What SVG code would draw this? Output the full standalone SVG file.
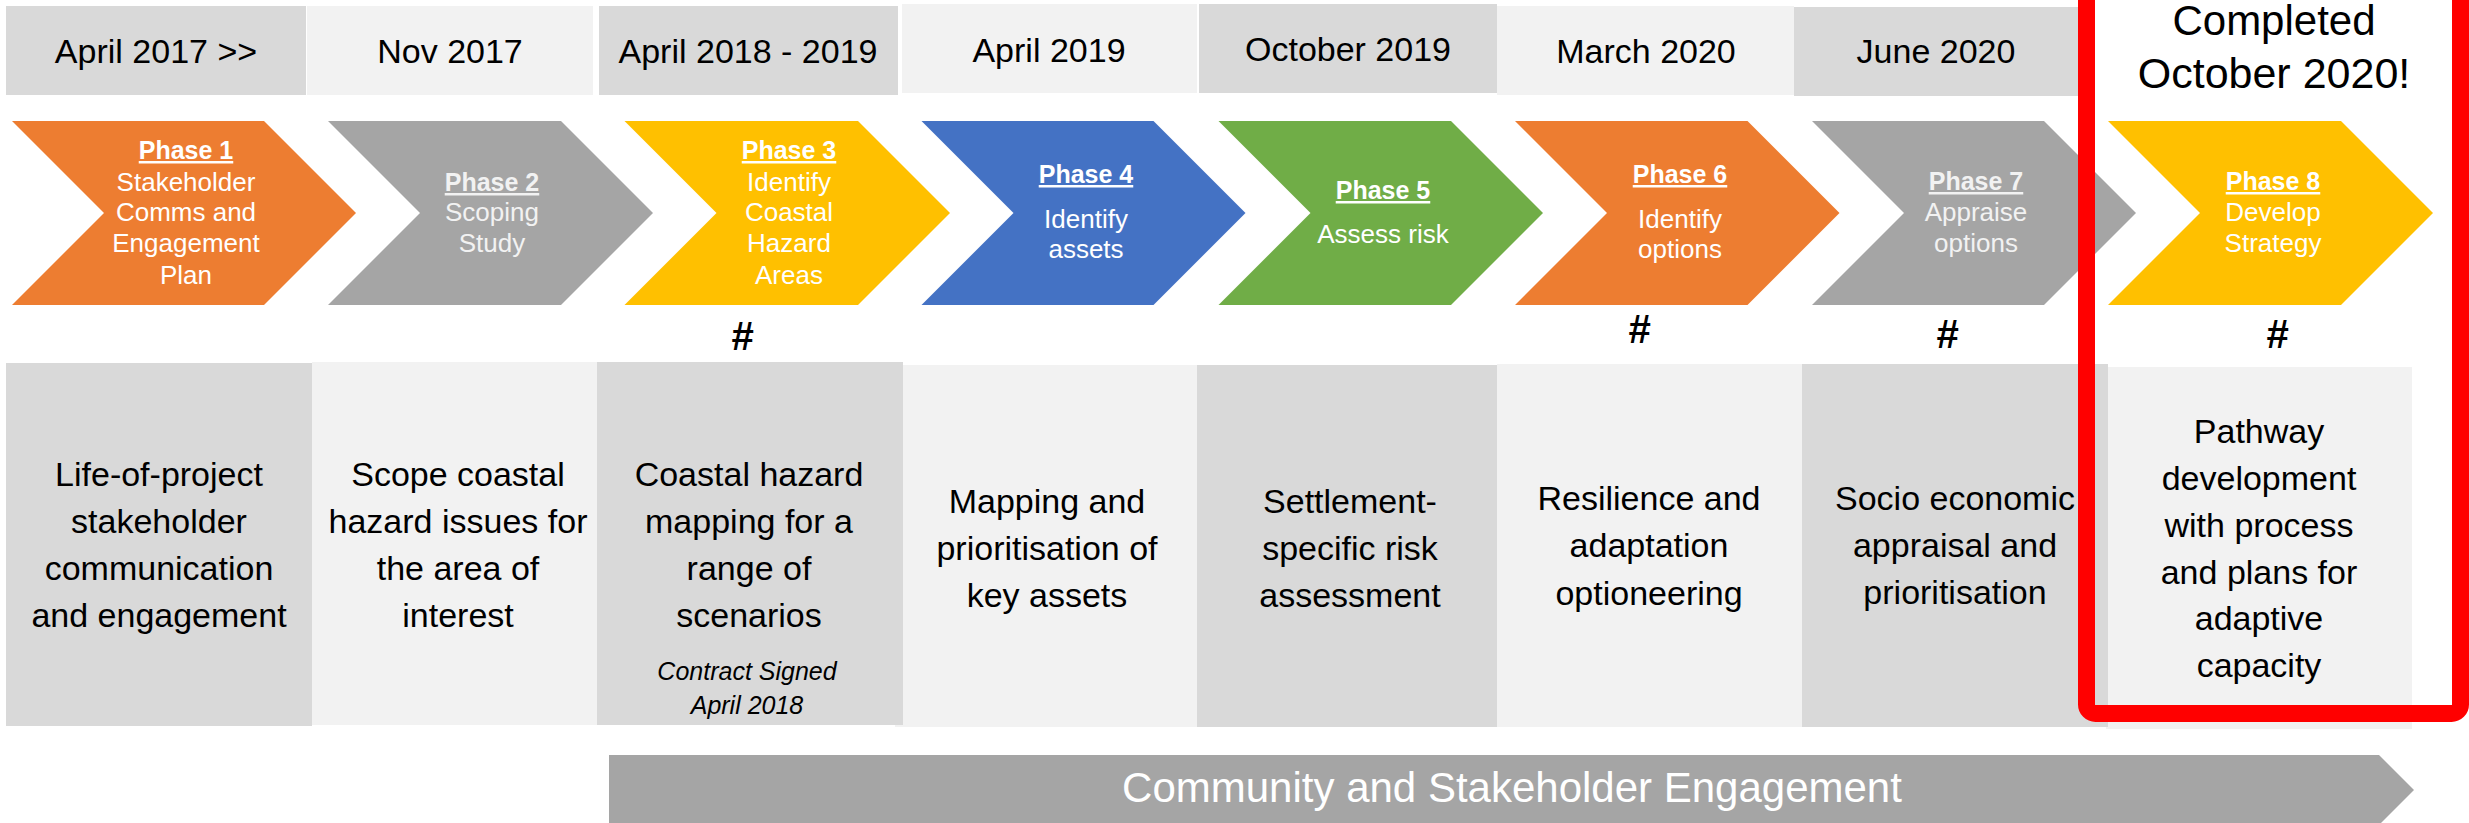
<svg xmlns="http://www.w3.org/2000/svg" width="2469" height="823" viewBox="0 0 2469 823">
<style>
text{font-family:"Liberation Sans",Arial,sans-serif;text-anchor:middle}
.dark{fill:#D9D9D9}
.light{fill:#F2F2F2}
.date{font-size:34px;fill:#000}
.ph{font-size:25px;font-weight:bold;fill:#fff;text-decoration:underline}
.cw{font-size:26px;fill:#fff}
.desc{font-size:34px;fill:#000}
.note{font-size:25px;font-style:italic;fill:#000}
.hash{font-size:40px;font-weight:bold;font-style:italic;fill:#000}
.orange{fill:#ED7D31}.gray{fill:#A5A5A5}.yellow{fill:#FFC000}.blue{fill:#4472C4}.green{fill:#70AD47}
</style>
<rect width="2469" height="823" fill="#fff"/>
<g id="dates">
<rect class="dark" x="6" y="6" width="300" height="89"/>
<rect class="light" x="307" y="6" width="286" height="89"/>
<rect class="dark" x="599" y="6" width="299" height="89"/>
<rect class="light" x="902" y="4" width="295" height="89"/>
<rect class="dark" x="1199" y="4" width="298" height="89"/>
<rect class="light" x="1497" y="6" width="297" height="89"/>
<rect class="dark" x="1794" y="7" width="284" height="89"/>
<text class="date" x="156" y="63">April 2017 &gt;&gt;</text>
<text class="date" x="450" y="63">Nov 2017</text>
<text class="date" x="748" y="63">April 2018 - 2019</text>
<text class="date" x="1049" y="62">April 2019</text>
<text class="date" x="1348" y="61">October 2019</text>
<text class="date" x="1646" y="63">March 2020</text>
<text class="date" x="1936" y="63">June 2020</text>
</g>
<g id="phase1">
<path class="orange" d="M12,121 L264,121 L356,213 L264,305 L12,305 L104,213 Z"/>
<text class="ph" x="186" y="159">Phase 1</text>
<text class="cw" x="186" y="191">Stakeholder</text>
<text class="cw" x="186" y="221">Comms and</text>
<text class="cw" x="186" y="252">Engagement</text>
<text class="cw" x="186" y="284">Plan</text>
</g>
<g id="phase2">
<path class="gray" d="M328,121 L561,121 L653,213 L561,305 L328,305 L420,213 Z"/>
<text class="ph" x="492" y="191" style="fill:#F2F2F2">Phase 2</text>
<text class="cw" x="492" y="221" style="fill:#F2F2F2">Scoping</text>
<text class="cw" x="492" y="252" style="fill:#F2F2F2">Study</text>
</g>
<g id="phase3">
<path class="yellow" d="M624.5,121 L858,121 L950,213 L858,305 L624.5,305 L716.5,213 Z"/>
<text class="ph" x="789" y="159">Phase 3</text>
<text class="cw" x="789" y="191">Identify</text>
<text class="cw" x="789" y="221">Coastal</text>
<text class="cw" x="789" y="252">Hazard</text>
<text class="cw" x="789" y="284">Areas</text>
<text class="hash" x="742" y="350">#</text>
</g>
<g id="phase4">
<path class="blue" d="M921.5,121 L1153.5,121 L1245.5,213 L1153.5,305 L921.5,305 L1013.5,213 Z"/>
<text class="ph" x="1086" y="183">Phase 4</text>
<text class="cw" x="1086" y="228">Identify</text>
<text class="cw" x="1086" y="258">assets</text>
</g>
<g id="phase5">
<path class="green" d="M1218.5,121 L1451,121 L1543,213 L1451,305 L1218.5,305 L1310.5,213 Z"/>
<text class="ph" x="1383" y="199">Phase 5</text>
<text class="cw" x="1383" y="243">Assess risk</text>
</g>
<g id="phase6">
<path class="orange" d="M1515,121 L1747.5,121 L1839.5,213 L1747.5,305 L1515,305 L1607,213 Z"/>
<text class="ph" x="1680" y="183">Phase 6</text>
<text class="cw" x="1680" y="228">Identify</text>
<text class="cw" x="1680" y="258">options</text>
<text class="hash" x="1639" y="343">#</text>
</g>
<g id="phase7">
<path class="gray" d="M1812,121 L2044,121 L2136,213 L2044,305 L1812,305 L1904,213 Z"/>
<text class="ph" x="1976" y="190" style="fill:#F2F2F2">Phase 7</text>
<text class="cw" x="1976" y="221" style="fill:#F2F2F2">Appraise</text>
<text class="cw" x="1976" y="252" style="fill:#F2F2F2">options</text>
<text class="hash" x="1947" y="348">#</text>
</g>
<g id="phase8">
<path class="yellow" d="M2108,121 L2341,121 L2433,213 L2341,305 L2108,305 L2200,213 Z"/>
<text class="ph" x="2273" y="190">Phase 8</text>
<text class="cw" x="2273" y="221">Develop</text>
<text class="cw" x="2273" y="252">Strategy</text>
<text class="hash" x="2277" y="348">#</text>
</g>
<g id="desc2">
<rect class="light" x="312" y="362" width="285" height="363"/>
<text class="desc" x="458" y="486">Scope coastal</text>
<text class="desc" x="458" y="533">hazard issues for</text>
<text class="desc" x="458" y="580">the area of</text>
<text class="desc" x="458" y="627">interest</text>
</g>
<g id="desc1">
<rect class="dark" x="6" y="363" width="306" height="363"/>
<text class="desc" x="159" y="486">Life-of-project</text>
<text class="desc" x="159" y="533">stakeholder</text>
<text class="desc" x="159" y="580">communication</text>
<text class="desc" x="159" y="627">and engagement</text>
</g>
<g id="desc4">
<rect class="light" x="895" y="365" width="302" height="362"/>
<text class="desc" x="1047" y="513">Mapping and</text>
<text class="desc" x="1047" y="560">prioritisation of</text>
<text class="desc" x="1047" y="607">key assets</text>
</g>
<g id="desc3">
<rect class="dark" x="597" y="362" width="306" height="363"/>
<text class="desc" x="749" y="486">Coastal hazard</text>
<text class="desc" x="749" y="533">mapping for a</text>
<text class="desc" x="749" y="580">range of</text>
<text class="desc" x="749" y="627">scenarios</text>
<text class="note" x="747" y="680">Contract Signed</text>
<text class="note" x="747" y="714">April 2018</text>
</g>
<g id="desc5">
<rect class="dark" x="1197" y="365" width="300" height="362"/>
<text class="desc" x="1350" y="513">Settlement-</text>
<text class="desc" x="1350" y="560">specific risk</text>
<text class="desc" x="1350" y="607">assessment</text>
</g>
<g id="desc6">
<rect class="light" x="1497" y="364" width="305" height="363"/>
<text class="desc" x="1649" y="510">Resilience and</text>
<text class="desc" x="1649" y="557">adaptation</text>
<text class="desc" x="1649" y="605">optioneering</text>
</g>
<g id="desc8">
<rect class="light" x="2106" y="367" width="306" height="362"/>
<text class="desc" x="2259" y="443">Pathway</text>
<text class="desc" x="2259" y="490">development</text>
<text class="desc" x="2259" y="537">with process</text>
<text class="desc" x="2259" y="584">and plans for</text>
<text class="desc" x="2259" y="630">adaptive</text>
<text class="desc" x="2259" y="677">capacity</text>
</g>
<g id="desc7">
<rect class="dark" x="1802" y="364" width="306" height="363"/>
<text class="desc" x="1955" y="510">Socio economic</text>
<text class="desc" x="1955" y="557">appraisal and</text>
<text class="desc" x="1955" y="604">prioritisation</text>
</g>
<g id="connectors">
<g id="engagement-band">
<path class="gray" d="M609,755 L2379,755 L2414,790 L2379,825 L609,825 Z"/>
<text x="1512" y="802" style="font-size:42px;fill:#fff">Community and Stakeholder Engagement</text>
</g>
</g>
<g id="completed">
<rect x="2086.5" y="-30" width="374" height="743.5" rx="9" fill="none" stroke="#FF0000" stroke-width="17"/>
<text x="2274" y="35" style="font-size:42px;fill:#000">Completed</text>
<text x="2274" y="88" style="font-size:43px;fill:#000">October 2020!</text>
</g>
</svg>
